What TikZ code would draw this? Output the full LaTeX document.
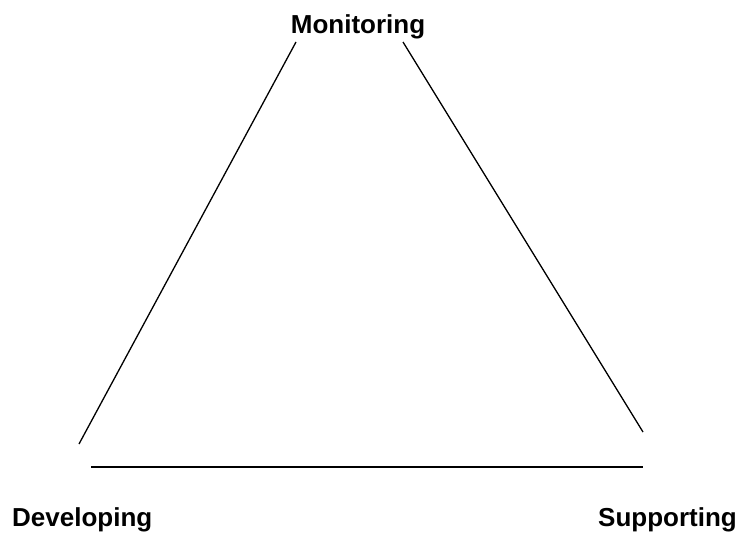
\documentclass[tikz,border=0pt]{standalone}
\usepackage{fontspec}
\setmainfont{Liberation Sans}
\usetikzlibrary{positioning}

\begin{document}
\begin{tikzpicture}[
    x=1pt, y=-1pt,
    lbl/.style={font=\bfseries\fontsize{26}{30}\selectfont, inner sep=0pt},
    side/.style={line width=1.3pt, line cap=butt},
  ]
    \useasboundingbox (0,0) rectangle (741,538);

    \node[lbl, anchor=base] (mon) at (358,33) {Monitoring};
    \node[lbl, anchor=base west] (dev) at (12,526) {Developing};
    \node[lbl, anchor=base east] (sup) at (737,526) {Supporting};

    % triangle sides
    \coordinate (topl) at (296,42);
    \coordinate (botl) at (79,444);
    \coordinate (topr) at (403,42);
    \coordinate (botr) at (643,432);
    \coordinate (basel) at (91,467);
    \coordinate (baser) at (643,467);

    \draw[side] (topl) -- (botl);
    \draw[side] (topr) -- (botr);
    \draw[side] (basel) -- (baser);
  \end{tikzpicture}
\end{document}
